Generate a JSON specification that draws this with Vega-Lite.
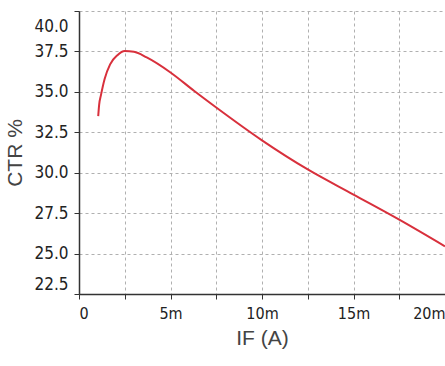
{
  "$schema": "https://vega.github.io/schema/vega-lite/v6.json",
  "width": 366,
  "height": 283,
  "autosize": {"type": "none"},
  "padding": {"left": 79, "top": 11, "right": 0, "bottom": 72},
  "background": "white",
  "config": {
    "view": {"stroke": null},
    "axis": {
      "labelFont": "'DejaVu Sans Condensed', 'Liberation Sans Narrow', 'Liberation Sans', sans-serif",
      "titleFont": "Liberation Sans",
      "labelColor": "#222222",
      "titleColor": "#444444",
      "titleFontWeight": "normal",
      "domainColor": "#333333",
      "domainWidth": 1.5,
      "tickColor": "#333333",
      "tickSize": 5,
      "gridColor": "#b0b0b0",
      "gridDash": [3, 3],
      "gridWidth": 1
    }
  },
  "data": {
    "values": [
      {"IF": 0.00105, "CTR": 33.5},
      {"IF": 0.0011, "CTR": 34.2},
      {"IF": 0.0012, "CTR": 34.8},
      {"IF": 0.0014, "CTR": 35.8},
      {"IF": 0.0017, "CTR": 36.7},
      {"IF": 0.0021, "CTR": 37.27},
      {"IF": 0.0025, "CTR": 37.52},
      {"IF": 0.003, "CTR": 37.48},
      {"IF": 0.0037, "CTR": 37.13},
      {"IF": 0.005, "CTR": 36.2},
      {"IF": 0.0063, "CTR": 35.05},
      {"IF": 0.0075, "CTR": 34.03},
      {"IF": 0.01, "CTR": 32.0},
      {"IF": 0.0125, "CTR": 30.2},
      {"IF": 0.015, "CTR": 28.65},
      {"IF": 0.0175, "CTR": 27.1},
      {"IF": 0.02, "CTR": 25.45}
    ]
  },
  "mark": {"type": "line", "color": "#d8303c", "strokeWidth": 2, "interpolate": "monotone"},
  "encoding": {
    "x": {
      "field": "IF",
      "type": "quantitative",
      "scale": {"domain": [0, 0.02], "nice": false, "zero": false},
      "axis": {
        "title": "IF (A)",
        "titleFontSize": 21,
        "titlePadding": 6,
        "labelFontSize": 16,
        "labelPadding": 6,
        "values": [0, 0.0025, 0.005, 0.0075, 0.01, 0.0125, 0.015, 0.0175, 0.02],
        "labelExpr": "round(datum.value * 10000) % 50 == 0 ? format(datum.value, '~s') : ''",
        "labelFlush": true
      }
    },
    "y": {
      "field": "CTR",
      "type": "quantitative",
      "scale": {"domain": [22.5, 40], "nice": false, "zero": false},
      "axis": {
        "title": "CTR %",
        "titleFontSize": 21,
        "titlePadding": 8,
        "labelFontSize": 17,
        "labelPadding": 6,
        "format": ".1f",
        "values": [22.5, 25, 27.5, 30, 32.5, 35, 37.5, 40],
        "labelFlush": false,
        "labelOffset": {"expr": "datum.value == 40 ? 15 : datum.value == 22.5 ? -10 : 0"}
      }
    }
  }
}
